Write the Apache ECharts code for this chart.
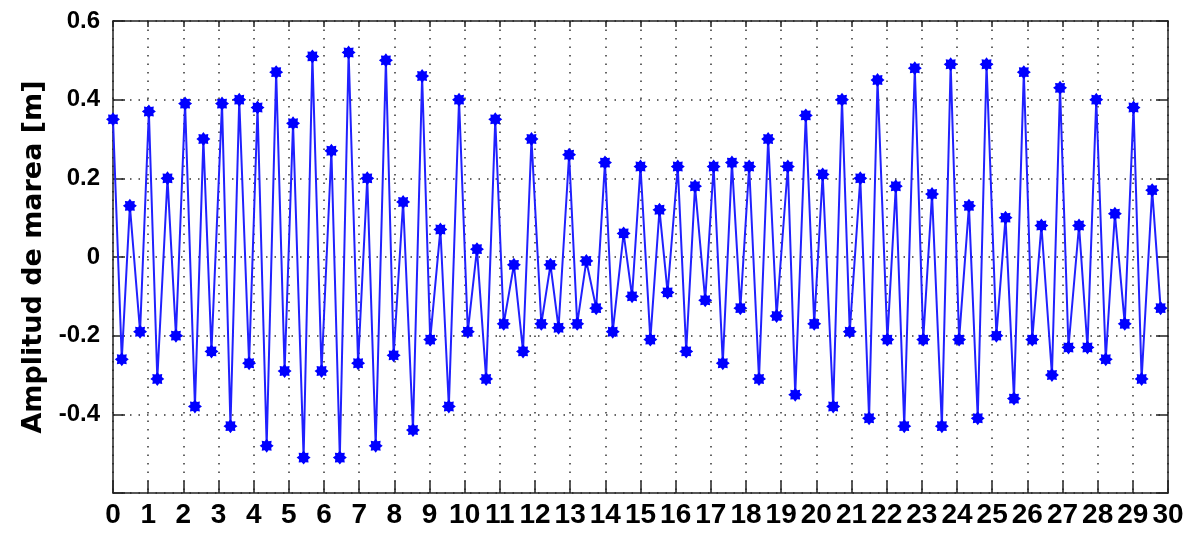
<!DOCTYPE html>
<html>
<head>
<meta charset="utf-8">
<script src="https://cdn.jsdelivr.net/npm/echarts@6/dist/echarts.min.js"></script>
<style>
  html, body { margin: 0; padding: 0; background: #fff; }
  #chart { width: 1191px; height: 539px; }
</style>
</head>
<body>
<div id="chart"></div>
<script>
// time of each high/low water (days)
const days = [0, 0.25, 0.48, 0.77, 1.02, 1.26, 1.55, 1.79, 2.05, 2.33, 2.57, 2.80, 3.10, 3.34, 3.59, 3.87,
  4.11, 4.37, 4.64, 4.88, 5.12, 5.42, 5.67, 5.93, 6.21, 6.45, 6.70, 6.97, 7.23, 7.47, 7.76, 7.98,
  8.25, 8.53, 8.79, 9.02, 9.31, 9.55, 9.84, 10.09, 10.35, 10.61, 10.87, 11.11, 11.40, 11.66, 11.90, 12.18,
  12.44, 12.67, 12.97, 13.20, 13.46, 13.74, 13.99, 14.21, 14.52, 14.76, 15.00, 15.28, 15.54, 15.77, 16.06, 16.30,
  16.55, 16.84, 17.08, 17.34, 17.60, 17.84, 18.09, 18.37, 18.63, 18.87, 19.19, 19.40, 19.70, 19.94, 20.18, 20.48,
  20.73, 20.95, 21.25, 21.50, 21.74, 22.02, 22.26, 22.50, 22.80, 23.04, 23.29, 23.57, 23.82, 24.06, 24.34, 24.59,
  24.84, 25.12, 25.38, 25.62, 25.90, 26.14, 26.40, 26.70, 26.93, 27.17, 27.47, 27.71, 27.96, 28.23, 28.49, 28.77,
  29.02, 29.25, 29.55, 29.79];

// amplitude (m)
const amplitude = [0.35, -0.26, 0.13, -0.19, 0.37, -0.31, 0.20, -0.20, 0.39, -0.38, 0.30, -0.24, 0.39, -0.43, 0.40, -0.27,
  0.38, -0.48, 0.47, -0.29, 0.34, -0.51, 0.51, -0.29, 0.27, -0.51, 0.52, -0.27, 0.20, -0.48, 0.50, -0.25,
  0.14, -0.44, 0.46, -0.21, 0.07, -0.38, 0.40, -0.19, 0.02, -0.31, 0.35, -0.17, -0.02, -0.24, 0.30, -0.17,
  -0.02, -0.18, 0.26, -0.17, -0.01, -0.13, 0.24, -0.19, 0.06, -0.10, 0.23, -0.21, 0.12, -0.09, 0.23, -0.24,
  0.18, -0.11, 0.23, -0.27, 0.24, -0.13, 0.23, -0.31, 0.30, -0.15, 0.23, -0.35, 0.36, -0.17, 0.21, -0.38,
  0.40, -0.19, 0.20, -0.41, 0.45, -0.21, 0.18, -0.43, 0.48, -0.21, 0.16, -0.43, 0.49, -0.21, 0.13, -0.41,
  0.49, -0.20, 0.10, -0.36, 0.47, -0.21, 0.08, -0.30, 0.43, -0.23, 0.08, -0.23, 0.40, -0.26, 0.11, -0.17,
  0.38, -0.31, 0.17, -0.13];

// -0.6 has no label in the original
const yTickLabels = { "0.6": "0.6", "0.4": "0.4", "0.2": "0.2", "0": "0", "-0.2": "-0.2", "-0.4": "-0.4" };

// matlab-ish star marker
function starPath(n, ro, ri) {
  let d = "";
  for (let i = 0; i < n * 2; i++) {
    const r = i % 2 === 0 ? ro : ri;
    const a = (Math.PI * i) / n - Math.PI / 2;
    d += (i === 0 ? "M" : "L") + (r * Math.cos(a)).toFixed(3) + "," + (r * Math.sin(a)).toFixed(3);
  }
  return "path://" + d + "Z";
}

const chart = echarts.init(document.getElementById("chart"));
const font = "Liberation Sans, Arial, sans-serif";
const dotted = { color: "#333", width: 1.5, type: [1.5, 7] };
const frame = { color: "#222", width: 1.5 };
const tick = { inside: true, length: 12, lineStyle: frame };

chart.setOption({
  backgroundColor: "#fff",
  animation: false,
  grid: { left: 113, right: 23, top: 21, bottom: 46 },
  xAxis: [
    {
      type: "value", min: 0, max: 30, interval: 1,
      axisLine: { show: true, onZero: false, lineStyle: frame },
      axisTick: tick,
      axisLabel: { color: "#000", fontSize: 28, fontWeight: "bold", fontFamily: font, margin: 8, showMinLabel: true, showMaxLabel: true },
      splitLine: { show: true, lineStyle: dotted },
    },
    {
      type: "value", min: 0, max: 30, interval: 1, position: "top",
      axisLine: { show: true, onZero: false, lineStyle: frame },
      axisTick: { inside: true, length: 6, lineStyle: frame },
      axisLabel: { show: false }, splitLine: { show: false },
    },
  ],
  yAxis: [
    {
      type: "value", min: -0.6, max: 0.6, interval: 0.2,
      name: "Amplitud de marea [m]", nameLocation: "middle", nameGap: 65,
      nameTextStyle: { color: "#000", fontSize: 27, fontWeight: "bold", fontFamily: "DejaVu Sans, sans-serif" },
      axisLine: { show: true, onZero: false, lineStyle: frame },
      axisTick: tick,
      axisLabel: {
        color: "#000", fontSize: 24, fontWeight: "bold", fontFamily: font, margin: 13,
        formatter: (v) => yTickLabels[String(Math.round(v * 10) / 10)] || "",
      },
      splitLine: { show: true, lineStyle: dotted },
    },
    {
      type: "value", min: -0.6, max: 0.6, interval: 0.2, position: "right",
      axisLine: { show: true, onZero: false, lineStyle: frame },
      axisTick: tick,
      axisLabel: { show: false }, splitLine: { show: false },
    },
  ],
  series: [
    {
      type: "line",
      data: days.map((d, i) => [d, amplitude[i]]),
      lineStyle: { color: "#2020ff", width: 2 },
      symbol: starPath(8, 1, 0.7),
      symbolSize: 14,
      itemStyle: { color: "#0000ff" },
      z: 5,
    },
  ],
});
</script>
</body>
</html>
